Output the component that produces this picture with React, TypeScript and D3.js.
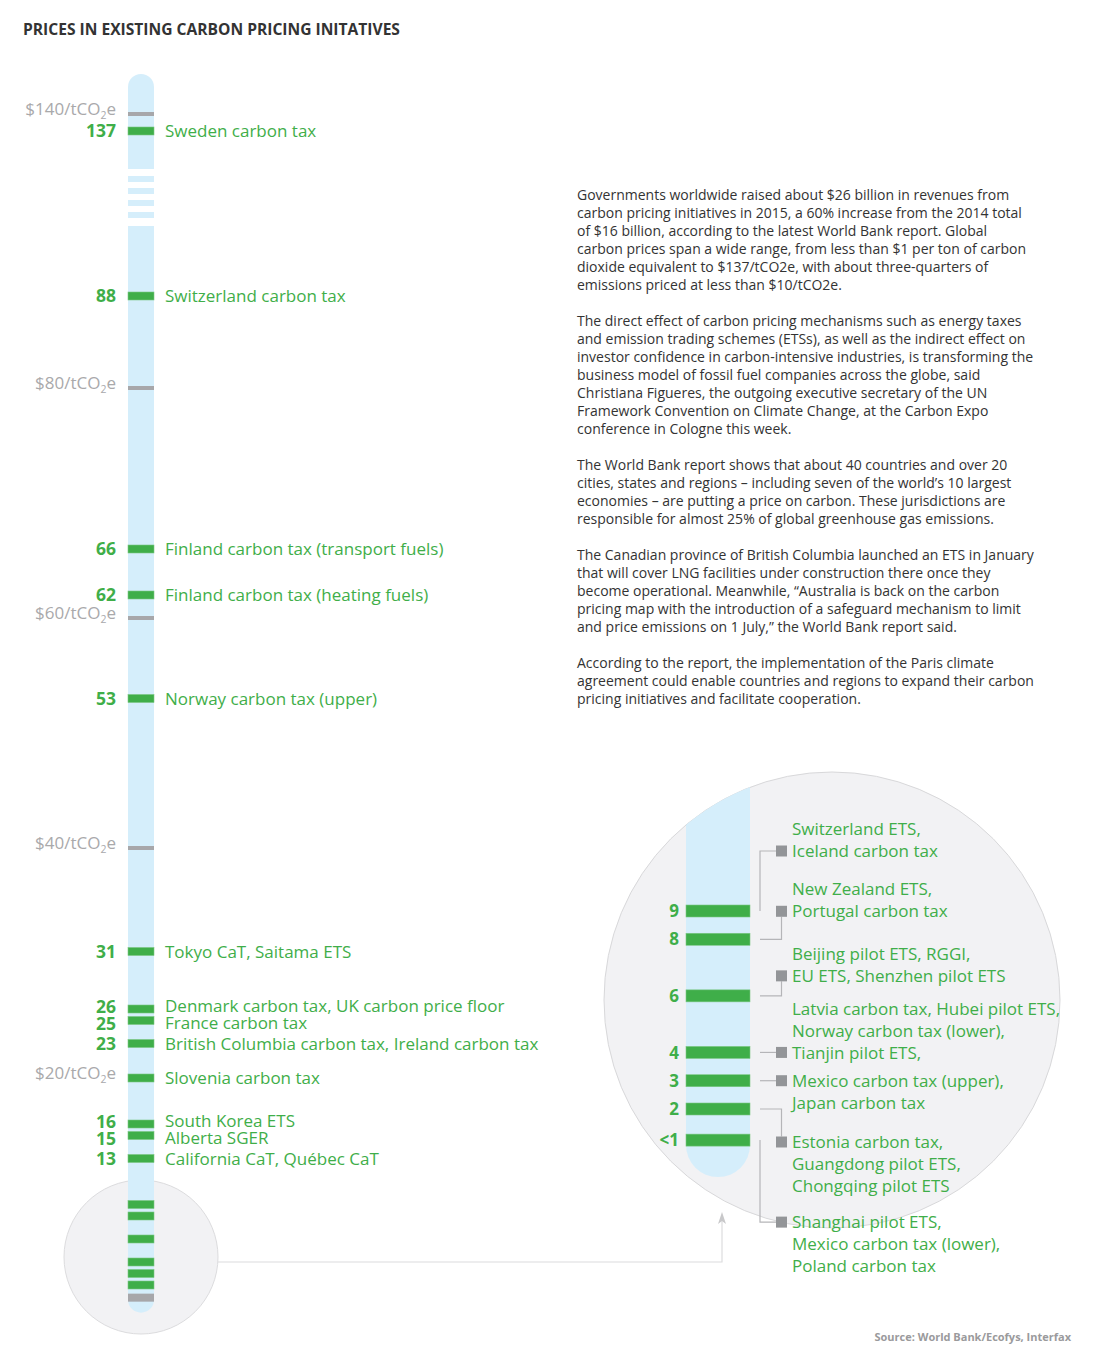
import * as d3 from "d3";

const W = 1100;
const H = 1362;

const GREEN = "#3fae49";
const GRAY_TICK = "#a7a7aa";
const BAR_BLUE = "#d5eefb";
const CIRCLE_FILL = "#f2f2f4";

// price ticks ($/tCO2e)
const tickValues = [140, 80, 60, 40, 20];

// initiatives above $10
const mainValues = [137, 88, 66, 62, 53, 31, 26, 25, 23, 20, 16, 15, 13];
const mainNames = [
  "Sweden carbon tax",
  "Switzerland carbon tax",
  "Finland carbon tax (transport fuels)",
  "Finland carbon tax (heating fuels)",
  "Norway carbon tax (upper)",
  "Tokyo CaT, Saitama ETS",
  "Denmark carbon tax, UK carbon price floor",
  "France carbon tax",
  "British Columbia carbon tax, Ireland carbon tax",
  "Slovenia carbon tax",
  "South Korea ETS",
  "Alberta SGER",
  "California CaT, Québec CaT",
];

// initiatives below $10 (zoomed)
const lowValues = [9, 8, 6, 4, 3, 2, 0.9];
const lowValueLabels = ["9", "8", "6", "4", "3", "2", "<1"];
const lowNames = [
  ["Switzerland ETS,", "Iceland carbon tax"],
  ["New Zealand ETS,", "Portugal carbon tax"],
  ["Beijing pilot ETS, RGGI,", "EU ETS, Shenzhen pilot ETS"],
  ["Latvia carbon tax, Hubei pilot ETS,", "Norway carbon tax (lower),", "Tianjin pilot ETS,"],
  ["Mexico carbon tax (upper),", "Japan carbon tax"],
  ["Estonia carbon tax,", "Guangdong pilot ETS,", "Chongqing pilot ETS"],
  ["Shanghai pilot ETS,", "Mexico carbon tax (lower),", "Poland carbon tax"],
];

const paragraphs = [
  [
    "Governments worldwide raised about $26 billion in revenues from",
    "carbon pricing initiatives in 2015, a 60% increase from the 2014 total",
    "of $16 billion, according to the latest World Bank report. Global",
    "carbon prices span a wide range, from less than $1 per ton of carbon",
    "dioxide equivalent to $137/tCO2e, with about three-quarters of",
    "emissions priced at less than $10/tCO2e.",
  ],
  [
    "The direct effect of carbon pricing mechanisms such as energy taxes",
    "and emission trading schemes (ETSs), as well as the indirect effect on",
    "investor confidence in carbon-intensive industries, is transforming the",
    "business model of fossil fuel companies across the globe, said",
    "Christiana Figueres, the outgoing executive secretary of the UN",
    "Framework Convention on Climate Change, at the Carbon Expo",
    "conference in Cologne this week.",
  ],
  [
    "The World Bank report shows that about 40 countries and over 20",
    "cities, states and regions – including seven of the world’s 10 largest",
    "economies – are putting a price on carbon. These jurisdictions are",
    "responsible for almost 25% of global greenhouse gas emissions.",
  ],
  [
    "The Canadian province of British Columbia launched an ETS in January",
    "that will cover LNG facilities under construction there once they",
    "become operational. Meanwhile, “Australia is back on the carbon",
    "pricing map with the introduction of a safeguard mechanism to limit",
    "and price emissions on 1 July,” the World Bank report said.",
  ],
  [
    "According to the report, the implementation of the Paris climate",
    "agreement could enable countries and regions to expand their carbon",
    "pricing initiatives and facilitate cooperation.",
  ],
];

// layout of the callouts in the zoom circle (px offset of square from its bar, line the square sits on)
const calloutOffset = [-60, -28, -20, 0, 0, 33, 82];
const calloutLine = [1, 1, 1, 2, 0, 0, 0];

const FONT = "'Open Sans', 'Noto Sans', sans-serif";

// push labels apart so they don't collide
function spreadLabels(ys: number[], gap: number) {
  const out = ys.slice();
  for (let k = 0; k < 30; k++) {
    for (let i = 1; i < out.length; i++) {
      const d = out[i] - out[i - 1];
      if (d < gap) {
        const m = (gap - d) / 2;
        out[i - 1] -= m;
        out[i] += m;
      }
    }
  }
  return out;
}

export default function App() {
  // broken axis: top segment for Sweden, linear segment below
  const yTop = d3.scaleLinear().domain([137, 140]).range([131, 114]);
  const yMain = d3.scaleLinear().domain([2, 88]).range([1285, 296]);
  const y = (v: number) => (v >= 100 ? yTop(v) : yMain(v));
  const yZoom = d3.scaleLinear().domain([2, 9]).range([1109, 911]);

  const barX = 128;
  const barW = 26;
  const barTop = yTop(140) - 40;
  const breakStart = barTop + 95;
  const breakEnd = breakStart + 57;
  const barBottom = yMain(0.9) + 15;

  const small = { cx: barX + barW / 2, cy: 1257, r: 77 };
  const zoom = { cx: 832, cy: 1000, r: 228 };
  const zBarX = 686;
  const zBarW = 64;
  const zBarBottom = yZoom(0.9) + 37;
  const elbowX = 760;
  const sqX = 776;
  const sqS = 11;
  const textX = 792;
  const lineH = 22;

  const r = barW / 2;
  const topSeg = `M${barX},${breakStart} V${barTop + r} A${r},${r} 0 0 1 ${barX + barW},${barTop + r} V${breakStart} Z`;
  const lowSeg = `M${barX},${breakEnd} H${barX + barW} V${barBottom - r} A${r},${r} 0 0 1 ${barX},${barBottom - r} Z`;
  const zr = zBarW / 2;
  const zSeg = `M${zBarX},${zoom.cy - zoom.r} H${zBarX + zBarW} V${zBarBottom - zr} A${zr},${zr} 0 0 1 ${zBarX},${zBarBottom - zr} Z`;

  const dashes = d3.range(4).map(i => breakStart + 7 + i * 12);

  const arrowY = 1262;
  const arrowX = 722;
  const arrowTip = 1212;

  const labelY = spreadLabels(mainValues.map(y), 17);

  let paraY = 200;
  const paraLines: { text: string; y: number }[] = [];
  paragraphs.forEach(p => {
    p.forEach(line => {
      paraLines.push({ text: line, y: paraY });
      paraY += 18;
    });
    paraY += 18;
  });

  return (
    <svg
      width={W}
      height={H}
      style={{ position: "absolute", left: 0, top: 0, background: "#fff" }}
      fontFamily={FONT}
    >
      <defs>
        <clipPath id="zoomClip">
          <circle cx={zoom.cx} cy={zoom.cy} r={zoom.r} />
        </clipPath>
      </defs>

      <text x={23} y={35} fontSize={15.6} fontWeight={700} fill="#333">
        PRICES IN EXISTING CARBON PRICING INITATIVES
      </text>

      {/* small circle behind bottom of bar */}
      <circle cx={small.cx} cy={small.cy} r={small.r} fill={CIRCLE_FILL} stroke="#dcdcde" />

      {/* connector to zoom circle */}
      <path
        d={`M${small.cx + small.r},${arrowY} H${arrowX} V${arrowTip + 8}`}
        fill="none"
        stroke="#dcdcde"
        strokeWidth={1.2}
      />
      <path
        d={`M${arrowX},${arrowTip} L${arrowX - 4},${arrowTip + 12} L${arrowX},${arrowTip + 9} L${arrowX + 4},${arrowTip + 12} Z`}
        fill="#c8c8ca"
      />

      {/* main bar */}
      <path d={topSeg} fill={BAR_BLUE} />
      {dashes.map(d => (
        <rect key={d} x={barX} y={d} width={barW} height={6} fill={BAR_BLUE} />
      ))}
      <path d={lowSeg} fill={BAR_BLUE} />

      {/* ticks */}
      {tickValues.map(t => (
        <g key={t}>
          <rect x={barX} y={y(t) - 2} width={barW} height={4} fill={GRAY_TICK} />
          <text x={116} y={y(t) + 1} textAnchor="end" fontSize={17} fill="#a9a9ab">
            {`$${t}/tCO`}
            <tspan dy={4} fontSize={10.5}>2</tspan>
            <tspan dy={-4}>e</tspan>
          </text>
        </g>
      ))}

      {/* main marks */}
      {mainValues.map((v, i) => (
        <g key={mainNames[i]}>
          <rect x={barX} y={y(v) - 4} width={barW} height={8} fill={GREEN} stroke="#7cc784" strokeWidth={0.6} />
          {!tickValues.includes(v) && (
            <text x={116} y={labelY[i]} dy="0.36em" textAnchor="end" fontSize={17.5} fontWeight={700} fill={GREEN}>
              {v}
            </text>
          )}
          <text x={165} y={labelY[i]} dy="0.36em" fontSize={17} fill={GREEN}>
            {mainNames[i]}
          </text>
        </g>
      ))}

      {/* low marks inside small circle */}
      {lowValues.map((v, i) => (
        <rect
          key={v}
          x={barX}
          y={yMain(v) - 4}
          width={barW}
          height={8}
          fill={i === lowValues.length - 1 ? GRAY_TICK : GREEN}
          stroke={i === lowValues.length - 1 ? "none" : "#7cc784"}
          strokeWidth={0.6}
        />
      ))}

      {/* zoom circle */}
      <circle cx={zoom.cx} cy={zoom.cy} r={zoom.r} fill={CIRCLE_FILL} stroke="#d8d8da" />
      <path d={zSeg} fill={BAR_BLUE} clipPath="url(#zoomClip)" />
      {lowValues.map((v, i) => (
        <g key={v}>
          <rect x={zBarX} y={yZoom(v) - 6} width={zBarW} height={12} fill={GREEN} stroke="#7cc784" strokeWidth={0.6} />
          <text x={679} y={yZoom(v)} dy="0.36em" textAnchor="end" fontSize={17} fontWeight={700} fill={GREEN}>
            {lowValueLabels[i]}
          </text>
        </g>
      ))}

      {/* callouts */}
      {lowNames.map((lines, i) => {
        const by = yZoom(lowValues[i]);
        const sy = by + calloutOffset[i];
        const dy = sy - by;
        let d: string;
        if (Math.abs(dy) < 1) {
          d = `M${elbowX},${by} H${sqX}`;
        } else if (Math.abs(dy) > 40) {
          d = `M${elbowX},${by} V${sy} H${sqX}`;
        } else {
          const sxc = sqX + sqS / 2;
          d = `M${elbowX},${by} H${sxc} V${dy < 0 ? sy + sqS / 2 : sy - sqS / 2}`;
        }
        const firstY = sy - calloutLine[i] * lineH;
        return (
          <g key={i}>
            <path d={d} fill="none" stroke="#b5b5b8" strokeWidth={1.2} />
            <rect x={sqX} y={sy - sqS / 2} width={sqS} height={sqS} fill="#939598" />
            {lines.map((l, j) => (
              <text key={j} x={textX} y={firstY + j * lineH} dy="0.36em" fontSize={17} fill={GREEN}>
                {l}
              </text>
            ))}
          </g>
        );
      })}

      {/* article text */}
      {paraLines.map((l, i) => (
        <text key={i} x={577} y={l.y} fontSize={14} fill="#333">
          {l.text}
        </text>
      ))}

      <text x={1071} y={1341} textAnchor="end" fontSize={11} fontWeight={700} fill="#9a9a9c">
        Source: World Bank/Ecofys, Interfax
      </text>
    </svg>
  );
}
